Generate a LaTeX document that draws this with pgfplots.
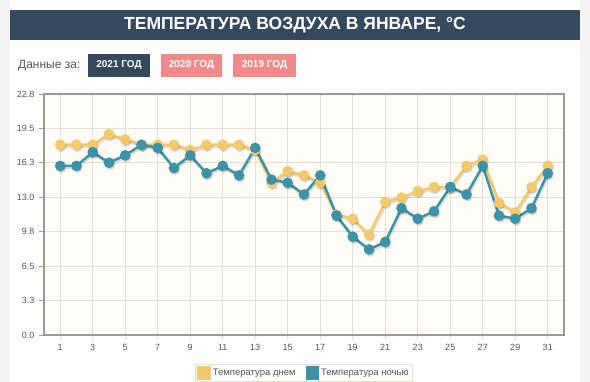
\documentclass[border=0pt]{standalone}
\usepackage{pgfplots}
\pgfplotsset{compat=1.18}
\usetikzlibrary{calc,backgrounds}
\usepackage{fontspec}
\setmainfont{Liberation Sans}
\definecolor{navy}{HTML}{34495E}
\definecolor{pinkb}{HTML}{F28A8A}
\definecolor{bgray}{HTML}{F4F4F4}
\definecolor{cream}{HTML}{FFFDF6}
\definecolor{gridc}{HTML}{E2E0DA}
\definecolor{axc}{HTML}{9A9A9A}
\definecolor{txtc}{HTML}{555555}
\definecolor{dayc}{HTML}{F5C96A}
\definecolor{nightc}{HTML}{3A93A8}

\pgfplotstableread{
day t
1 18.0
2 18.0
3 18.0
4 19.0
5 18.5
6 18.0
7 18.0
8 18.0
9 17.5
10 18.0
11 18.0
12 18.0
13 17.5
14 14.4
15 15.5
16 15.1
17 14.4
18 11.4
19 11.0
20 9.5
21 12.6
22 13.0
23 13.6
24 14.0
25 14.0
26 16.0
27 16.6
28 12.5
29 11.6
30 14.0
31 16.0
}\daytable

\pgfplotstableread{
day t
1 16.0
2 16.0
3 17.3
4 16.3
5 17.0
6 18.0
7 17.7
8 15.8
9 17.0
10 15.3
11 16.0
12 15.1
13 17.7
14 14.7
15 14.4
16 13.3
17 15.1
18 11.3
19 9.3
20 8.1
21 8.8
22 12.0
23 11.0
24 11.7
25 14.0
26 13.3
27 16.0
28 11.3
29 11.0
30 12.0
31 15.3
}\nighttable

\begin{document}
\begin{tikzpicture}[x=1pt,y=1pt]
\begin{axis}[
  name=ax, scale only axis,
  width=520pt, height=241pt,
  xmin=0, xmax=32, ymin=0, ymax=22.8,
  axis background/.style={fill=cream},
  axis line style={axc, line width=1.4pt},
  xtick={1,3,...,31},
  ytick={0,3.2571,6.5143,9.7714,13.0286,16.2857,19.5429,22.8},
  yticklabels={0.0,3.3,6.5,9.8,13.0,16.3,19.5,22.8},
  grid=major,
  major grid style={gridc, line width=0.8pt},
  tick align=outside, major tick length=5pt,
  tick style={axc, line width=0.8pt},
  xtick style={gridc, line width=0.8pt},
  ytick pos=left, xtick pos=bottom,
  /pgf/number format/assume math mode=true,
  ticklabel style={font=\fontsize{9}{9}\selectfont, text=txtc},
  yticklabel style={xshift=-1pt},
  xticklabel style={yshift=-1pt},
  legend style={at={(0.5,-0.12)}, anchor=north, legend columns=2,
    draw=gridc, font=\fontsize{9.5}{9.5}\selectfont, text=txtc,
    inner sep=2pt, row sep=0pt,
    /tikz/every even column/.append style={column sep=8pt}},
  legend image code/.code={\fill[#1] (0pt,-5pt) rectangle (11pt,6pt);},
]
\addplot[black, opacity=0.12, line width=2.5pt, mark=*, mark size=4pt, forget plot,
  shift={(1pt,-2pt)}] table[x=day,y=t] {\daytable};
\addplot[black, opacity=0.12, line width=2.5pt, mark=*, mark size=4pt, forget plot,
  shift={(1pt,-2pt)}] table[x=day,y=t] {\nighttable};
\addplot[dayc, line width=2.5pt, mark=*, mark size=4pt, mark options={fill=dayc, draw=dayc}]
  table[x=day,y=t] {\daytable};
\addlegendentry{Температура днем}
\addplot[nightc, line width=2.5pt, mark=*, mark size=4pt, mark options={fill=nightc, draw=nightc}]
  table[x=day,y=t] {\nighttable};
\addlegendentry{Температура ночью}
\end{axis}
\begin{scope}[on background layer, shift={(ax.south west)}, xshift=-44pt, yshift=-47pt]
\fill[bgray] (0,0) rectangle (590,382);
\fill[white] (10,0) rectangle (580,382);
\fill[navy] (10,342) rectangle (580,372);
\node[white, font=\bfseries\fontsize{17.5}{17.5}\selectfont] at (295,357) {ТЕМПЕРАТУРА ВОЗДУХА В ЯНВАРЕ, °C};
\node[anchor=west, text=txtc, font=\fontsize{12}{12}\selectfont, inner sep=0pt] at (18,316) {Данные за:};
\fill[navy] (88,305) rectangle (150,328);
\node[white, font=\bfseries\fontsize{10}{10}\selectfont] at (119,316.5) {2021 ГОД};
\fill[pinkb] (161,305) rectangle (222,328);
\node[white, font=\bfseries\fontsize{10}{10}\selectfont] at (191.5,316.5) {2020 ГОД};
\fill[pinkb] (233,305) rectangle (296,328);
\node[white, font=\bfseries\fontsize{10}{10}\selectfont] at (264.5,316.5) {2019 ГОД};
\end{scope}
\pgfresetboundingbox
\useasboundingbox ($(ax.south west)+(-44,-47)$) rectangle ($(ax.south west)+(546,335)$);
\end{tikzpicture}
\end{document}
